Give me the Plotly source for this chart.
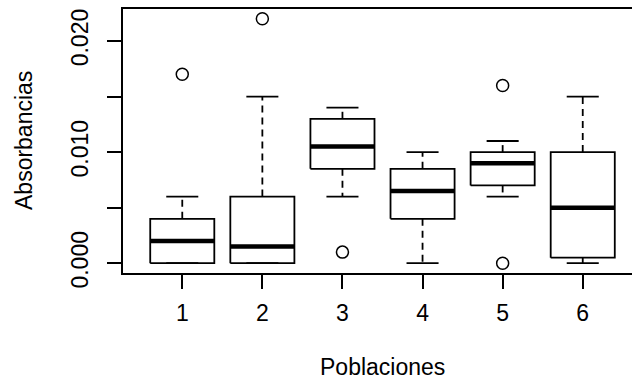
import plotly.graph_objects as go

# ---- data ----
populations = [1, 2, 3, 4, 5, 6]
q1 = [0.0, 0.0, 0.0085, 0.004, 0.007, 0.0005]
median = [0.002, 0.0015, 0.0105, 0.0065, 0.009, 0.005]
q3 = [0.004, 0.006, 0.013, 0.0085, 0.010, 0.010]
whisker_low = [0.0, 0.0, 0.006, 0.0, 0.006, 0.0]
whisker_high = [0.006, 0.015, 0.014, 0.010, 0.011, 0.015]
outlier_pop = [1, 2, 3, 5, 5]
outlier_val = [0.017, 0.022, 0.001, 0.016, 0.0]
y_tick_vals = [0.0, 0.005, 0.010, 0.015, 0.020]
y_tick_text = ["0.000", "", "0.010", "", "0.020"]
x_title = "Poblaciones"
y_title = "Absorbancias"

# ---- style ----
HALF = 0.4      # half box width
CAP = 0.2       # half staple width
LW = 1.8
FONT = dict(family="Liberation Sans, Arial, sans-serif", size=23, color="black")

box_x, box_y = [], []
med_x, med_y = [], []
wh_x, wh_y = [], []
cap_x, cap_y = [], []
for c, a, m, b, lo, hi in zip(populations, q1, median, q3, whisker_low, whisker_high):
    box_x += [c - HALF, c + HALF, c + HALF, c - HALF, c - HALF, None]
    box_y += [a, a, b, b, a, None]
    med_x += [c - HALF, c + HALF, None]
    med_y += [m, m, None]
    wh_x += [c, c, None, c, c, None]
    wh_y += [b, hi, None, a, lo, None]
    cap_x += [c - CAP, c + CAP, None, c - CAP, c + CAP, None]
    cap_y += [hi, hi, None, lo, lo, None]

fig = go.Figure()
fig.add_trace(go.Scatter(x=wh_x, y=wh_y, mode="lines",
                         line=dict(color="black", width=LW, dash="7px,5px"),
                         hoverinfo="skip"))
fig.add_trace(go.Scatter(x=cap_x, y=cap_y, mode="lines",
                         line=dict(color="black", width=LW), hoverinfo="skip"))
fig.add_trace(go.Scatter(x=box_x, y=box_y, mode="lines",
                         line=dict(color="black", width=LW), hoverinfo="skip"))
fig.add_trace(go.Scatter(x=med_x, y=med_y, mode="lines",
                         line=dict(color="black", width=4.5), hoverinfo="skip"))
fig.add_trace(go.Scatter(x=outlier_pop, y=outlier_val, mode="markers",
                         marker=dict(symbol="circle-open", size=12,
                                     color="black", line=dict(width=1.5))))

fig.update_layout(
    width=632, height=379,
    margin=dict(l=123, r=0, t=9, b=106),
    paper_bgcolor="white", plot_bgcolor="white",
    showlegend=False,
    font=FONT,
)
fig.update_xaxes(
    range=[0.26, 6.615], tickvals=populations,
    ticktext=[str(p) for p in populations],
    ticks="outside", ticklen=14, tickwidth=LW, tickcolor="black",
    showline=True, linecolor="black", linewidth=LW, mirror=True,
    showgrid=False, zeroline=False, ticklabelstandoff=4,
)
fig.update_yaxes(
    range=[-0.00088, 0.02288], tickvals=y_tick_vals, ticktext=y_tick_text,
    tickangle=-90,
    ticks="outside", ticklen=14, tickwidth=LW, tickcolor="black",
    showline=True, linecolor="black", linewidth=LW, mirror=False,
    showgrid=False, zeroline=False, ticklabelstandoff=10,
)
fig.add_annotation(text=x_title, xref="x", x=3.5, yref="paper", y=0,
                   yanchor="middle", yshift=-(367 - 273), showarrow=False,
                   font=FONT)
fig.add_annotation(text=y_title, xref="paper", x=0, xshift=-(123 - 24),
                   xanchor="center", yanchor="middle",
                   yref="paper", y=0.5, textangle=-90, showarrow=False,
                   font=FONT)

fig.write_html("out.html")
